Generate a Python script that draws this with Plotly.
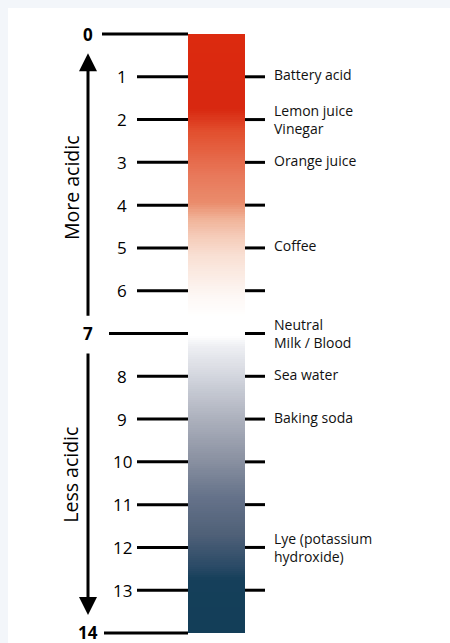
import numpy as np
import plotly.graph_objects as go

# ---- data ----
ph_values = list(range(15))
number_labels = [str(v) for v in ph_values]
bold_values = [0, 7, 14]
right_tick_values = list(range(1, 14))
substance_values = [1, 2, 3, 5, 7, 8, 9, 12]
substance_labels = ["Battery acid", "Lemon juice<br>Vinegar", "Orange juice", "Coffee",
                    "Neutral<br>Milk / Blood", "Sea water", "Baking soda",
                    "Lye (potassium<br>hydroxide)"]
direction_labels = ["More acidic", "Less acidic"]

# colour stops along the pH scale (pH, colour)
color_stops = [(0.0, "#DC2A0F"), (1.75, "#D82810"), (2.3, "#E2502F"), (3.3, "#E8785A"),
               (3.95, "#EA8C6C"), (4.3, "#F0B196"), (4.7, "#F5CAB7"), (5.2, "#F9E0D4"),
               (6.1, "#FDF7F4"), (6.6, "#FFFFFF"), (7.05, "#FFFFFF"), (7.3, "#EEEFF3"),
               (8.0, "#D3D6DE"), (8.9, "#B0B4C0"), (9.9, "#8C93A3"), (10.8, "#66738A"),
               (11.7, "#4F6078"), (12.45, "#2A4A66"), (12.75, "#153F5A"), (14.0, "#133E58")]

# ---- layout constants ----
W, H = 450, 643
BAR_X0, BAR_X1 = 188, 245
RIGHT_X1 = 265
left_start = {0: 102, 7: 109, 14: 104}
LEFT_DEFAULT = 137
NUM_X = 122
BOLD_X = 88
LABEL_X = 272
FONT = "Open Sans"

fig = go.Figure()

# gradient bar
n = 280
y_edges = np.linspace(0, 14, n + 1)
y_centers = (y_edges[:-1] + y_edges[1:]) / 2
colorscale = [[p / 14.0, c] for p, c in color_stops]
fig.add_trace(go.Heatmap(
    x=[BAR_X0, BAR_X1], y=y_edges, z=[[v] for v in y_centers],
    zmin=0, zmax=14, colorscale=colorscale, showscale=False, hoverinfo="skip"))

# tick lines (left)
lx, ly = [], []
for v in ph_values:
    lx += [left_start.get(v, LEFT_DEFAULT), BAR_X0, None]
    ly += [v, v, None]
fig.add_trace(go.Scatter(x=lx, y=ly, mode="lines", line=dict(color="black", width=3),
                         hoverinfo="skip", showlegend=False))
# tick lines (right)
rx, ry = [], []
for v in right_tick_values:
    rx += [BAR_X1, RIGHT_X1, None]
    ry += [v, v, None]
fig.add_trace(go.Scatter(x=rx, y=ry, mode="lines", line=dict(color="black", width=3),
                         hoverinfo="skip", showlegend=False))

# number labels
for v, t in zip(ph_values, number_labels):
    if v in bold_values:
        fig.add_annotation(x=BOLD_X, y=v, text="<b>%s</b>" % t, showarrow=False,
                           yshift=1 if v == 14 else 0,
                           font=dict(family=FONT, size=17, color="black"))
    else:
        fig.add_annotation(x=NUM_X, y=v, text=t, showarrow=False,
                           font=dict(family=FONT, size=17, color="black"))

# substance labels
for v, t in zip(substance_values, substance_labels):
    fig.add_annotation(x=LABEL_X, y=v, text=t, showarrow=False, xanchor="left", align="left",
                       yshift=0 if "<br>" in t else 2,
                       font=dict(family=FONT, size=14, color="#111111"))

# arrows
fig.add_annotation(x=BOLD_X, y=0.45, ax=BOLD_X, ay=6.62, axref="x", ayref="y",
                   showarrow=True, arrowhead=2, arrowsize=1.2, arrowwidth=3,
                   arrowcolor="black", text="", standoff=0)
fig.add_annotation(x=BOLD_X, y=13.58, ax=BOLD_X, ay=7.43, axref="x", ayref="y",
                   showarrow=True, arrowhead=2, arrowsize=1.2, arrowwidth=3,
                   arrowcolor="black", text="", standoff=0)

# direction labels
fig.add_annotation(x=71, y=3.6, text=direction_labels[0], textangle=-90, showarrow=False,
                   font=dict(family=FONT, size=19.5, color="black"))
fig.add_annotation(x=71, y=10.3, text=direction_labels[1], textangle=-90, showarrow=False,
                   font=dict(family=FONT, size=19.5, color="black"))

# axes: plot area spans x 8..450, y 8..643 (pixels); pH 0 at y=34, 14 at y=633
px_per_unit = (633 - 34) / 14.0
y_top = -(34 - 8) / px_per_unit
y_bot = 14 + (643 - 633) / px_per_unit
fig.update_xaxes(range=[8, W], visible=False, fixedrange=True)
fig.update_yaxes(range=[y_bot, y_top], visible=False, fixedrange=True)
fig.update_layout(width=W, height=H, margin=dict(l=8, t=8, r=0, b=0, pad=0),
                  paper_bgcolor="#F3F6FA", plot_bgcolor="white", showlegend=False)

fig.write_html("out.html", config={"displayModeBar": False},
               post_script="document.body.style.margin='0';document.body.style.overflow='hidden';document.body.style.background='#F3F6FA';")
